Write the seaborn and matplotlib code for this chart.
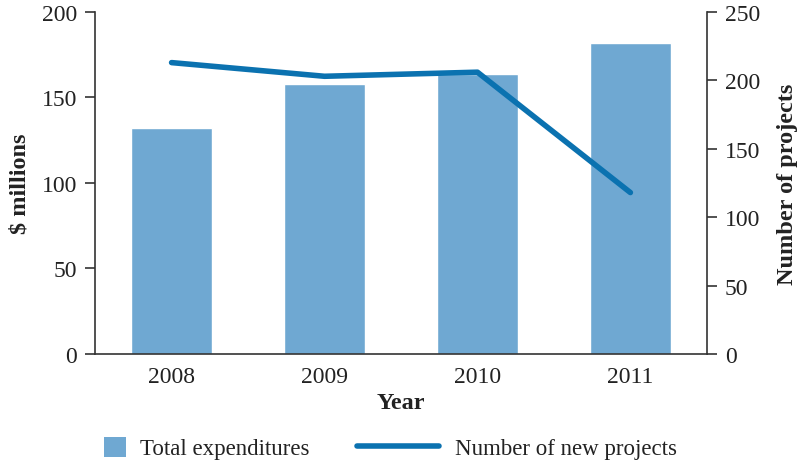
import matplotlib
matplotlib.use("Agg")
import matplotlib.pyplot as plt
import numpy as np
import pandas as pd
import seaborn as sns
from matplotlib.lines import Line2D
from matplotlib.patches import Patch

# data
years = ["2008", "2009", "2010", "2011"]
expenditures = [132, 158, 164, 182]      # $ millions (left axis)
new_projects = [213, 203, 206, 118]      # count (right axis)

bar_color = "#6fa8d2"
line_color = "#0b72b0"
text_color = "#222222"
spine_color = "#333333"

sns.set_theme(style="white")
plt.rcParams["font.family"] = ["Liberation Serif", "DejaVu Serif"]

df = pd.DataFrame({"year": years, "exp": expenditures, "proj": new_projects})

fig = plt.figure(figsize=(8.06, 4.64), dpi=100)
ax = fig.add_axes([0.118, 0.235, 0.759, 0.737])

sns.barplot(data=df, x="year", y="exp", color=bar_color, width=0.53,
            saturation=1, ax=ax)
ax.set_xlim(-0.5, 3.5)
ax.set_ylim(0, 200)
ax.set_yticks([0, 50, 100, 150, 200])

ax2 = ax.twinx()
sns.lineplot(x=np.arange(len(years)), y=df["proj"], color=line_color,
             linewidth=4, ax=ax2, solid_capstyle="round")
ax2.set_ylim(0, 250)
ax2.set_yticks([0, 50, 100, 150, 200, 250])

# spines
for a in (ax, ax2):
    a.spines["top"].set_visible(False)
    for s in ("left", "right", "bottom"):
        a.spines[s].set_color(spine_color)
        a.spines[s].set_linewidth(1.2)
ax.spines["right"].set_visible(False)
ax2.spines["left"].set_visible(False)
ax2.spines["bottom"].set_visible(False)

# x tick marks between categories, labels at centers
ax.set_xticks(np.arange(-0.5, 4.0, 1.0), minor=True)
ax.tick_params(axis="x", which="minor", length=7, width=1.2, color=spine_color,
               direction="out")
ax.tick_params(axis="x", which="major", length=0, pad=9, labelsize=17,
               labelcolor=text_color)
ax.tick_params(axis="y", length=7, width=1.2, color=spine_color, direction="out",
               labelsize=17, labelcolor=text_color, pad=6, left=True)
ax2.tick_params(axis="y", length=7, width=1.2, color=spine_color, direction="out",
                labelsize=17, labelcolor=text_color, pad=6, right=True)

ax.set_xlabel("Year", fontsize=17.5, fontweight="bold", color=text_color,
              labelpad=3)
ax.set_ylabel("$ millions", fontsize=17.5, fontweight="bold", color=text_color,
              labelpad=8)
ax2.set_ylabel("Number of projects", fontsize=17.5, fontweight="bold",
               color=text_color, labelpad=12)

# legend: two single-entry legends so the patch and line get their own sizes
leg1 = fig.legend([Patch(facecolor=bar_color, edgecolor="none")],
                  ["Total expenditures"], loc="center left",
                  bbox_to_anchor=(104 / 806, 15 / 464), frameon=False,
                  fontsize=16.5, handlelength=0.96, handleheight=0.96,
                  handletextpad=0.6, borderpad=0, borderaxespad=0,
                  labelcolor=text_color)
fig.legend([Line2D([0], [0], color=line_color, linewidth=4)],
           ["Number of new projects"], loc="center left",
           bbox_to_anchor=(357 / 806, 15 / 464), frameon=False,
           fontsize=16.5, handlelength=3.58, handletextpad=0.7, borderpad=0,
           borderaxespad=0, labelcolor=text_color)

fig.savefig("out.png", dpi=100)
